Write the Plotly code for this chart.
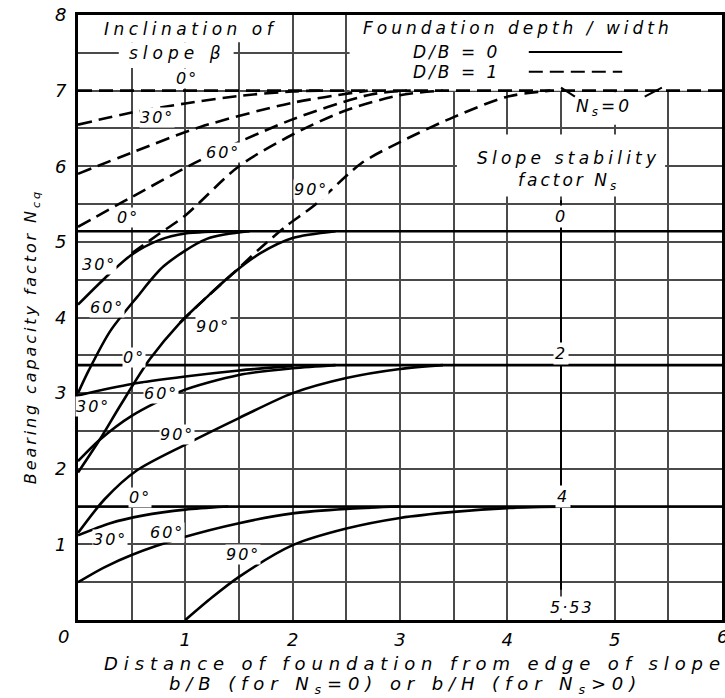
import plotly.graph_objects as go

FONT = "DejaVu Sans"

# ---------------- data ----------------
x_tick_vals = [1, 2, 3, 4, 5]
y_tick_vals = [1, 2, 3, 4, 5, 6, 7, 8]

# N_s = 0, D/B = 0 (solid)
ns0_s0_x = [0, 6];                                   ns0_s0_y = [5.14, 5.14]
ns0_s30_x = [0, 0.25, 0.5, 0.75, 1.0, 1.5];          ns0_s30_y = [4.17, 4.52, 4.83, 5.02, 5.11, 5.14]
ns0_s60_x = [0, 0.1, 0.3, 0.55, 0.8, 1.2, 1.6];      ns0_s60_y = [3.0, 3.3, 3.82, 4.27, 4.68, 5.04, 5.14]
ns0_s90_x = [0, 0.2, 0.4, 0.67, 0.95, 1.2, 1.45, 1.7, 2.0, 2.4]
ns0_s90_y = [1.95, 2.38, 2.85, 3.45, 3.93, 4.27, 4.59, 4.85, 5.05, 5.14]

# N_s = 0, D/B = 1 (dashed)
db1_a_x = [0, 6];                                    db1_a_y = [7.0, 7.0]
db1_b_x = [0, 0.5, 1.0, 1.5, 2.0, 2.3];              db1_b_y = [6.55, 6.71, 6.83, 6.93, 6.99, 7.0]
db1_c_x = [0, 0.5, 1.14, 2.0, 2.7];                  db1_c_y = [5.9, 6.18, 6.52, 6.84, 7.0]
db1_d_x = [0, 0.51, 1.14, 1.98, 2.73, 3.1];          db1_d_y = [5.2, 5.6, 6.08, 6.61, 6.95, 7.0]
db1_e_x = [0.5, 0.75, 1.0, 1.5, 2.0, 2.5, 3.0, 3.4]; db1_e_y = [4.85, 5.1, 5.35, 6.0, 6.42, 6.74, 6.94, 7.0]
db1_f_x = [0.95, 1.2, 1.45, 1.7, 1.95, 2.2, 2.64, 3.0, 3.5, 4.0, 4.4]
db1_f_y = [3.93, 4.27, 4.59, 4.92, 5.22, 5.48, 6.04, 6.32, 6.65, 6.92, 7.0]

# N_s = 2, D/B = 0 (solid)
ns2_s0_x = [0, 6];                                   ns2_s0_y = [3.37, 3.37]
ns2_s30_x = [0, 0.5, 1.0, 1.5, 2.0];                 ns2_s30_y = [2.97, 3.12, 3.22, 3.3, 3.36]
ns2_s60_x = [0, 0.2, 0.5, 0.95, 1.5, 2.0, 2.4];      ns2_s60_y = [2.1, 2.38, 2.7, 3.02, 3.24, 3.33, 3.37]
ns2_s90_x = [0, 0.25, 0.55, 1.0, 1.5, 2.0, 2.5, 3.0, 3.4]
ns2_s90_y = [1.15, 1.6, 1.98, 2.32, 2.67, 3.0, 3.2, 3.32, 3.37]

# N_s = 4, D/B = 0 (solid)
ns4_s0_x = [0, 6];                                   ns4_s0_y = [1.5, 1.5]
ns4_s30_x = [0, 0.3, 0.6, 1.0, 1.4];                 ns4_s30_y = [1.12, 1.28, 1.38, 1.46, 1.5]
ns4_s60_x = [0, 0.25, 0.5, 1.0, 1.5, 2.0, 2.5, 3.0]; ns4_s60_y = [0.5, 0.7, 0.86, 1.1, 1.28, 1.41, 1.47, 1.5]
ns4_s90_x = [1.0, 1.25, 1.5, 2.0, 2.5, 3.0, 3.5, 4.0, 4.6]
ns4_s90_y = [0.0, 0.3, 0.57, 0.99, 1.21, 1.35, 1.43, 1.48, 1.5]

solid_curves = [
    (ns0_s0_x, ns0_s0_y), (ns0_s30_x, ns0_s30_y), (ns0_s60_x, ns0_s60_y), (ns0_s90_x, ns0_s90_y),
    (ns2_s0_x, ns2_s0_y), (ns2_s30_x, ns2_s30_y), (ns2_s60_x, ns2_s60_y), (ns2_s90_x, ns2_s90_y),
    (ns4_s0_x, ns4_s0_y), (ns4_s30_x, ns4_s30_y), (ns4_s60_x, ns4_s60_y), (ns4_s90_x, ns4_s90_y),
]
dashed_curves = [
    (db1_a_x, db1_a_y), (db1_b_x, db1_b_y), (db1_c_x, db1_c_y),
    (db1_d_x, db1_d_y), (db1_e_x, db1_e_y), (db1_f_x, db1_f_y),
]

# curve labels: text, x, y
angle_labels = [
    ("0°", 1.02, 7.16), ("30°", 0.74, 6.64), ("60°", 1.35, 6.18), ("90°", 2.17, 5.69),
    ("0°", 0.47, 5.32), ("30°", 0.2, 4.7), ("60°", 0.27, 4.13), ("90°", 1.26, 3.88),
    ("0°", 0.52, 3.47), ("30°", 0.14, 2.82), ("60°", 0.77, 3.0), ("90°", 0.92, 2.45),
    ("0°", 0.58, 1.62), ("30°", 0.3, 1.06), ("60°", 0.83, 1.16), ("90°", 1.54, 0.86),
]
ns_labels = [("0", 4.5, 5.33), ("2", 4.5, 3.52), ("4", 4.52, 1.63), ("5·53", 4.6, 0.16)]
legend_solid_x = [4.2, 5.07];  legend_solid_y = [7.51, 7.51]
legend_dash_x = [4.2, 5.07];   legend_dash_y = [7.25, 7.25]


def sp(t, ls):
    return f'<span style="letter-spacing:{ls}px">{t}</span>'


fig = go.Figure()
for cx, cy in solid_curves:
    fig.add_trace(go.Scatter(x=cx, y=cy, mode="lines", line=dict(color="black", width=2.6, shape="spline", smoothing=0.8),
                             hoverinfo="skip", showlegend=False))
for cx, cy in dashed_curves:
    fig.add_trace(go.Scatter(x=cx, y=cy, mode="lines",
                             line=dict(color="black", width=2.6, dash="14px,7px", shape="spline", smoothing=0.8),
                             hoverinfo="skip", showlegend=False))
fig.add_trace(go.Scatter(x=legend_solid_x, y=legend_solid_y, mode="lines", line=dict(color="black", width=2),
                         hoverinfo="skip", showlegend=False))
fig.add_trace(go.Scatter(x=legend_dash_x, y=legend_dash_y, mode="lines", line=dict(color="black", width=2, dash="14px,7px"),
                         hoverinfo="skip", showlegend=False))

shapes = [
    dict(type="rect", xref="x", yref="y", x0=2.53, x1=6, y0=7.0, y1=8, fillcolor="white", line=dict(width=0), layer="between"),
    dict(type="rect", xref="x", yref="y", x0=0.2, x1=1.93, y0=7.64, y1=8, fillcolor="white", line=dict(width=0), layer="between"),
    dict(type="rect", xref="x", yref="y", x0=0.38, x1=1.45, y0=7.3, y1=7.64, fillcolor="white", line=dict(width=0), layer="between"),
    dict(type="rect", xref="x", yref="y", x0=3.53, x1=5.47, y0=5.6, y1=6.42, fillcolor="white", line=dict(width=0), layer="between"),
    dict(type="rect", xref="x", yref="y", x0=4.55, x1=5.35, y0=6.55, y1=6.98, fillcolor="white", line=dict(width=0), layer="between"),
    dict(type="line", xref="x", yref="y", x0=4.5, x1=4.5, y0=0.4, y1=5.55, line=dict(color="black", width=2), layer="between"),
    dict(type="line", xref="x", yref="y", x0=4.63, x1=4.5, y0=6.92, y1=7.04, line=dict(color="black", width=2)),
    dict(type="line", xref="x", yref="y", x0=5.28, x1=5.44, y0=6.92, y1=7.04, line=dict(color="black", width=2)),
]

itfont = dict(family=FONT, size=17, color="black", style="italic")
C = dict(showarrow=False, xanchor="center", yanchor="middle")
ann = []
for t, x, y in angle_labels:
    ann.append(dict(C, text=sp(t, 2), x=x, y=y, xref="x", yref="y", font=dict(itfont, size=16),
                    bgcolor="white", borderpad=0))
for t, x, y in ns_labels:
    ann.append(dict(C, text=sp(t, 2), x=x, y=y, xref="x", yref="y", font=dict(itfont, size=16),
                    bgcolor="white", borderpad=1))

ann += [
    dict(C, text=sp("Inclination of", 4.5), x=1.05, y=7.82, xref="x", yref="y", font=itfont),
    dict(C, text=sp("slope β", 5), x=0.92, y=7.5, xref="x", yref="y", font=itfont),
    dict(C, text=sp("Foundation depth / width", 4), x=4.1, y=7.83, xref="x", yref="y", font=itfont),
    dict(C, text=sp("D/B = 0", 3), x=3.53, y=7.51, xref="x", yref="y", font=itfont),
    dict(C, text=sp("D/B = 1", 3), x=3.53, y=7.25, xref="x", yref="y", font=itfont),
    dict(C, text=sp("N<sub>s</sub>=0", 3), x=4.9, y=6.78, xref="x", yref="y", font=itfont),
    dict(C, text=sp("Slope stability", 4.2) + "<br>" + sp("factor N<sub>s</sub>", 3), x=4.57, y=5.94, xref="x",
         yref="y", font=itfont),
    dict(C, text="0", x=-0.022, y=-0.028, xref="paper", yref="paper", font=dict(itfont, size=18)),
    dict(C, text="6", x=1.0, y=-0.028, xref="paper", yref="paper", font=dict(itfont, size=18)),
    dict(C, text=sp("Distance of foundation from edge of slope", 5.9), x=0.523, y=-0.072, xref="paper", yref="paper",
         font=dict(itfont, size=18)),
    dict(C, text=sp("b/B (for N<sub>s</sub>=0) or b/H (for N<sub>s</sub>>0)", 5.9), x=0.509, y=-0.108, xref="paper",
         yref="paper", font=dict(itfont, size=18)),
    dict(C, text=sp("Bearing capacity factor N<sub>cq</sub>", 2.9), x=-0.071, y=0.468, xref="paper", yref="paper",
         textangle=-90, font=dict(itfont, size=16)),
]

grid_col = "#4a4a4a"
axis_common = dict(showgrid=True, gridcolor=grid_col, gridwidth=1.5, zeroline=False, showline=True, linecolor="black",
                   linewidth=3, mirror=True, ticks="", ticklen=0, automargin=False,
                   tickfont=dict(family=FONT, size=18, color="black", style="italic"),
                   fixedrange=True)

fig.update_layout(
    width=725, height=698, margin=dict(l=78, r=3, t=15, b=78, autoexpand=False),
    paper_bgcolor="white", plot_bgcolor="white", showlegend=False,
    xaxis=dict(axis_common, range=[0, 6], tickmode="array", tickvals=x_tick_vals, ticklabelstandoff=1,
               minor=dict(dtick=0.5, tick0=0, showgrid=True, gridcolor=grid_col, gridwidth=1.5)),
    yaxis=dict(axis_common, range=[0, 8], tickmode="array", tickvals=y_tick_vals, ticklabelstandoff=5,
               minor=dict(dtick=0.5, tick0=0, showgrid=True, gridcolor=grid_col, gridwidth=1.5)),
    shapes=shapes, annotations=ann,
)

fig.write_html("out.html", config={"displayModeBar": False},
               post_script="document.body.style.margin='0px';document.body.style.padding='0px';")
